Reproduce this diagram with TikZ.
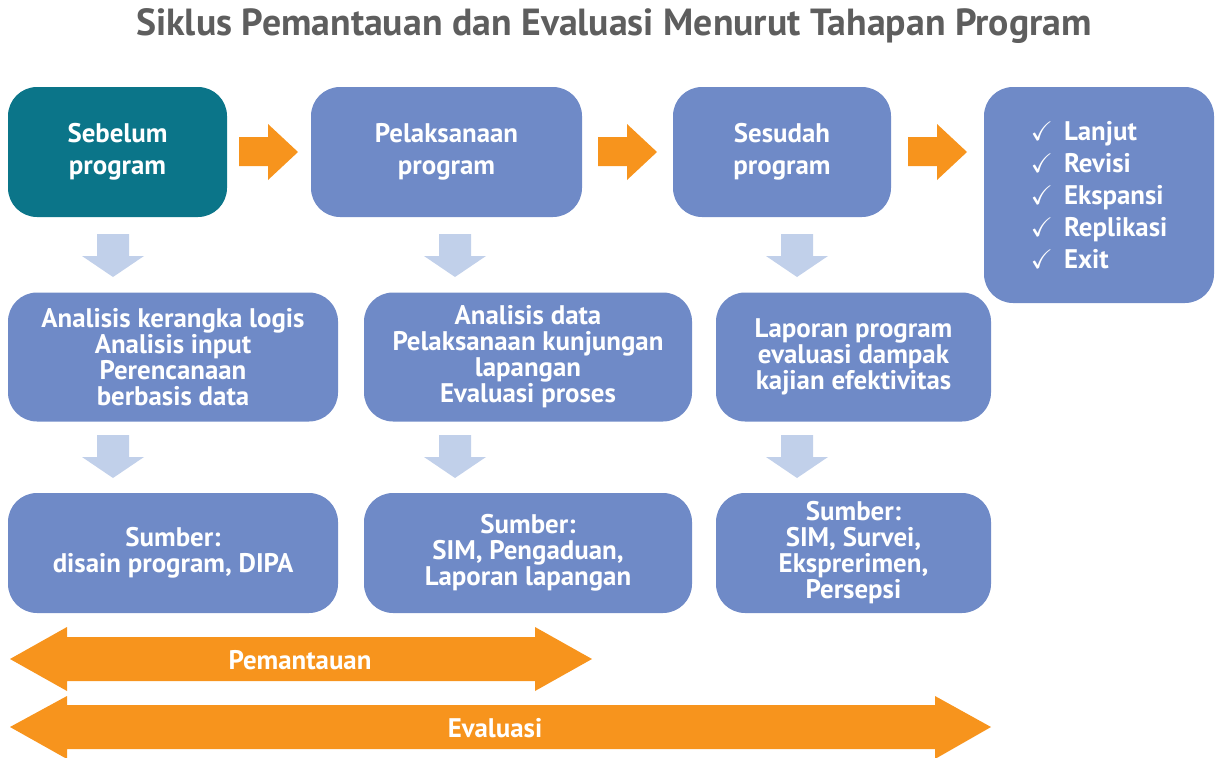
\documentclass[tikz,border=0pt]{standalone}
\usepackage{fontspec}
\usepackage{amssymb}
\setmainfont{PT Sans}
\definecolor{teal1}{HTML}{0B7589}
\definecolor{boxblue}{HTML}{6F8AC7}
\definecolor{lightarr}{HTML}{C1D0EA}
\definecolor{orng}{HTML}{F7941D}
\definecolor{titlegray}{HTML}{5E5E5E}
\newcommand\ckitem[1]{\makebox[19pt][l]{$\checkmark$}#1}
\begin{document}
\begin{tikzpicture}[x=0.02cm,y=-0.02cm,
  sz/.style 2 args={minimum width=#1*0.02cm, minimum height=#2*0.02cm},
  boxbase/.style={draw=none, fill=boxblue, rounded corners=0.58cm, inner sep=0pt, text=white, align=center},
  toprow/.style={boxbase, font=\bfseries\fontsize{15.3}{18.2}\selectfont},
  lowrow/.style={boxbase, font=\bfseries\fontsize{15.3}{14.8}\selectfont},
  barlabel/.style={text=white, font=\bfseries\fontsize{15.3}{17}\selectfont}
]
\useasboundingbox (0,0) rectangle (1215,758);

% title
\node[text=titlegray, font=\bfseries\fontsize{21.5}{24}\selectfont] (title) at (614,26) {Siklus Pemantauan dan Evaluasi Menurut Tahapan Program};

% top row
\node[toprow, fill=teal1, sz={219}{130}] (pre) at (117.5,152) {Sebelum\\program};
\node[toprow, sz={271}{130}] (impl) at (446.5,152) {Pelaksanaan\\program};
\node[toprow, sz={218}{130}] (post) at (782,152) {Sesudah\\program};
\node[toprow, sz={230}{216}, align=left] (res) at (1099,195) {%
  \ckitem{Lanjut}\\
  \ckitem{Revisi}\\
  \ckitem{Ekspansi}\\
  \ckitem{Replikasi}\\
  \ckitem{Exit}};

% middle row
\node[lowrow, sz={330}{129}] (anA) at (173,357) {Analisis kerangka logis\\Analisis input\\Perencanaan\\berbasis data};
\node[lowrow, sz={328}{129}] (anB) at (528,357) {Analisis data\\Pelaksanaan kunjungan\\lapangan\\Evaluasi proses};
\node[lowrow, sz={275}{129}] (anC) at (853.5,357) {Laporan program\\evaluasi dampak\\kajian efektivitas};

% bottom row
\node[lowrow, sz={330}{120}] (srcA) at (173,553) {Sumber:\\disain program, DIPA};
\node[lowrow, sz={328}{120}] (srcB) at (528,553) {Sumber:\\SIM, Pengaduan,\\Laporan lapangan};
\node[lowrow, sz={275}{120}] (srcC) at (853.5,553) {Sumber:\\SIM, Survei,\\Eksprerimen,\\Persepsi};

% orange right arrows
\foreach \a in {239,598,908}{
  \fill[orng] (\a,137) -- (\a+29,137) -- (\a+29,124) -- (\a+59,152) -- (\a+29,180) -- (\a+29,166) -- (\a,166) -- cycle;
}

% light down arrows
\foreach \c in {113,455,797}{
  \fill[lightarr] (\c-16,234) -- (\c+16,234) -- (\c+16,256) -- (\c+31,256) -- (\c,277) -- (\c-31,256) -- (\c-16,256) -- cycle;
  \fill[lightarr] (\c-16,435) -- (\c+16,435) -- (\c+16,457) -- (\c+31,457) -- (\c,478) -- (\c-31,457) -- (\c-16,457) -- cycle;
}

% double arrows
\fill[orng] (10,659) -- (67,627) -- (67,637) -- (535,637) -- (535,627) -- (592,659) -- (535,691) -- (535,681) -- (67,681) -- (67,691) -- cycle;
\node[barlabel] (mon) at (300,660) {Pemantauan};
\fill[orng] (10,727) -- (67,696) -- (67,705) -- (935,705) -- (935,696) -- (991,727) -- (935,759) -- (935,749) -- (67,749) -- (67,759) -- cycle;
\node[barlabel] (eva) at (495,728) {Evaluasi};
\end{tikzpicture}
\end{document}
